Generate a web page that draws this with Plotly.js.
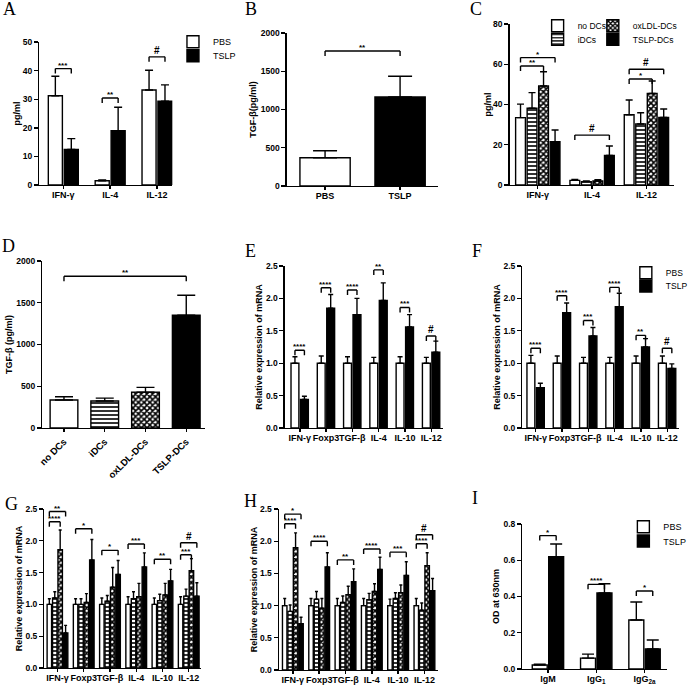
<!DOCTYPE html>
<html><head><meta charset="utf-8">
<script src="https://cdn.plot.ly/plotly-3.0.1.min.js"></script>
<style>html,body{margin:0;padding:0;background:#fff}#chart{width:693px;height:686px}</style>
</head><body><div id="chart"></div>
<script>
// ---------------- data ----------------
const groups2 = ['PBS', 'TSLP'];
const dcGroups = ['no DCs', 'iDCs', 'oxLDL-DCs', 'TSLP-DCs'];
const cytokines = ['IFN-γ', 'IL-4', 'IL-12'];
const genes = ['IFN-γ', 'Foxp3', 'TGF-β', 'IL-4', 'IL-10', 'IL-12'];
const antibodies = ['IgM', 'IgG<sub>1</sub>', 'IgG<sub>2a</sub>'];

// A
const pbsA = [31.2, 1.5, 33.2];
const pbsAErr = [6.8, 0.3, 6.9];
const tslpA = [12.4, 19.0, 29.3];
const tslpAErr = [3.8, 8.2, 5.7];
const sigA = [[0,0,0,1,40.7,'***'],[1,0,1,1,30.4,'**'],[2,0,2,1,44.8,'#']];
// B
const tgfB = [370, 1165];
const tgfBErr = [90, 270];
const sigB = [[0,0,1,0,1765,'**']];
// C
const noDCsC = [33.5, 2.3, 34.9];
const noDCsCErr = [6.7, 0.5, 7.3];
const iDCsC = [38.1, 1.7, 30.3];
const iDCsCErr = [7.8, 0.3, 5.6];
const oxDCsC = [49.2, 2.0, 45.5];
const oxDCsCErr = [7.1, 0.6, 6.2];
const tslpDCsC = [21.5, 14.7, 33.6];
const tslpDCsCErr = [5.8, 4.7, 4.2];
const sigC = [[0,0,0,3,63.3,'*'],[0,0,0,2,59.1,'**'],[1,0,1,3,24.8,'#'],[2,0,2,3,57.5,'#'],[2,0,2,2,52.7,'*']];
// D
const tgfD = [335, 323, 430, 1350];
const tgfDErr = [40, 35, 56, 240];
const sigD = [[0,0,3,0,1817,'**']];
// E
const pbsE = [1, 1, 1, 1, 1, 1];
const pbsEErr = [0.10, 0.11, 0.10, 0.09, 0.10, 0.09];
const tslpE = [0.44, 1.85, 1.75, 1.97, 1.56, 1.17];
const tslpEErr = [0.05, 0.21, 0.25, 0.27, 0.19, 0.17];
const sigE = [[0,0,0,1,1.20,'****'],[1,0,1,1,2.165,'****'],[2,0,2,1,2.13,'****'],[3,0,3,1,2.44,'**'],[4,0,4,1,1.86,'***'],[5,0,5,1,1.42,'#']];
// F
const pbsF = [1, 1, 1, 1, 1, 1];
const pbsFErr = [0.12, 0.11, 0.09, 0.09, 0.11, 0.11];
const tslpF = [0.62, 1.78, 1.42, 1.87, 1.25, 0.92];
const tslpFErr = [0.07, 0.15, 0.13, 0.21, 0.13, 0.07];
const sigF = [[0,0,0,1,1.23,'****'],[1,0,1,1,2.04,'****'],[2,0,2,1,1.66,'***'],[3,0,3,1,2.17,'****'],[4,0,4,1,1.43,'**'],[5,0,5,1,1.23,'#']];
// G
const noDCsG = [1, 1, 1, 1, 1, 1];
const noDCsGErr = [0.09, 0.09, 0.10, 0.12, 0.10, 0.12];
const iDCsG = [1.10, 1.00, 1.05, 1.09, 1.06, 1.13];
const iDCsGErr = [0.10, 0.09, 0.09, 0.11, 0.10, 0.11];
const oxDCsG = [1.86, 1.03, 1.27, 1.12, 1.15, 1.53];
const oxDCsGErr = [0.31, 0.14, 0.31, 0.21, 0.18, 0.19];
const tslpDCsG = [0.55, 1.70, 1.47, 1.59, 1.37, 1.13];
const tslpDCsGErr = [0.12, 0.32, 0.22, 0.22, 0.18, 0.21];
const sigG = [[0,0,0,3,2.46,'**'],[0,0,0,2,2.30,'****'],[1,0,1,3,2.19,'*'],[2,0,2,3,1.85,'*'],[3,0,3,3,1.95,'***'],[4,0,4,3,1.71,'**'],[5,0,5,3,1.97,'#'],[5,0,5,2,1.78,'***']];
// H
const noDCsH = [1, 1, 1, 1, 1, 1];
const noDCsHErr = [0.11, 0.11, 0.11, 0.11, 0.10, 0.11];
const iDCsH = [0.91, 1.10, 1.05, 1.09, 1.11, 0.93];
const iDCsHErr = [0.10, 0.12, 0.10, 0.10, 0.09, 0.11];
const oxDCsH = [1.90, 0.96, 1.17, 1.22, 1.20, 1.62];
const oxDCsHErr = [0.23, 0.15, 0.13, 0.12, 0.12, 0.20];
const tslpDCsH = [0.72, 1.60, 1.37, 1.56, 1.47, 1.23];
const tslpDCsHErr = [0.10, 0.22, 0.20, 0.19, 0.21, 0.19];
const sigH = [[0,0,0,3,2.42,'*'],[0,0,0,2,2.27,'****'],[1,0,1,3,2.0,'****'],[2,0,2,3,1.71,'**'],[3,0,3,3,1.88,'****'],[4,0,4,3,1.83,'***'],[5,0,5,3,2.10,'#'],[5,0,5,2,1.96,'****']];
// I
const pbsI = [0.022, 0.06, 0.27];
const pbsIErr = [0.005, 0.022, 0.10];
const tslpI = [0.62, 0.42, 0.11];
const tslpIErr = [0.07, 0.05, 0.05];
const sigI = [[0,0,0,1,0.736,'*'],[1,0,1,1,0.467,'****'],[2,0,2,1,0.43,'*']];

// ---------------- layout helpers ----------------
const W = 693, H = 686;
const SANS = 'Liberation Sans, Arial, sans-serif';
const SERIF = 'Liberation Serif, Times New Roman, serif';
const LW = 1.4;
const INK = '#000000';

const geo = {
  A:{xa:'x',  ya:'y',  l:40,  r:175, t:42,  b:185, xr:[-0.51,2.33], ymax:50,   dtick:10,  fmt:'',    title:'pg/ml', so:0},
  B:{xa:'x2', ya:'y2', l:291, r:444, t:33,  b:186, xr:[-0.51,1.5],  ymax:2000, dtick:500, fmt:'',    title:'TGF-β(pg/ml)', so:2},
  C:{xa:'x3', ya:'y3', l:517, r:684, t:24,  b:185, xr:[-0.52,2.51], ymax:80,   dtick:20,  fmt:'',    title:'pg/ml', so:0},
  D:{xa:'x4', ya:'y4', l:43,  r:208, t:261, b:428, xr:[-0.53,3.46], ymax:2000, dtick:500, fmt:'',    title:'TGF-β (pg/ml)', so:2},
  E:{xa:'x5', ya:'y5', l:289, r:449, t:266, b:428, xr:[-0.57,5.43], ymax:2.5,  dtick:0.5, fmt:'.1f', title:'Relative expression of mRNA', so:1},
  F:{xa:'x6', ya:'y6', l:530, r:689, t:266, b:428, xr:[-0.51,5.45], ymax:2.5,  dtick:0.5, fmt:'.1f', title:'Relative expression of mRNA', so:1},
  G:{xa:'x7', ya:'y7', l:45,  r:204, t:509, b:668, xr:[-0.5,5.47],  ymax:2.5,  dtick:0.5, fmt:'.1f', title:'Relative expression of mRNA', so:1},
  H:{xa:'x8', ya:'y8', l:283, r:444, t:509, b:670, xr:[-0.53,5.5],  ymax:2.5,  dtick:0.5, fmt:'.1f', title:'Relative expression of mRNA', so:1},
  I:{xa:'x9', ya:'y9', l:530, r:677, t:524, b:669, xr:[-0.53,2.47], ymax:0.8,  dtick:0.2, fmt:'.1f', title:'OD at 630nm', so:2}
};

const whiteM = {color:'white', line:{color:INK, width:LW}};
const blackM = {color:INK, line:{color:INK, width:LW}};
const hlineM = {color:'white', line:{color:INK, width:LW}, pattern:{shape:'-', fgcolor:INK, bgcolor:'white', size:4, solidity:0.4, fillmode:'replace'}};
const checkM = {color:'white', line:{color:INK, width:LW}, pattern:{shape:'x', fgcolor:INK, bgcolor:'white', size:4, solidity:0.65, fillmode:'replace'}};
const dcMarkers = [whiteM, hlineM, checkM, blackM];

const traces = [];
function addBar(p, cats, vals, errs, center, width, marker, cap, name, legend) {
  const g = geo[p];
  traces.push({
    type:'bar', x:cats, y:vals, xaxis:g.xa, yaxis:g.ya,
    width:width, offset:center - width/2, marker:marker, name:name || p,
    showlegend: !!legend, legend: legend || 'legend',
    error_y:{type:'data', symmetric:false, array:errs, arrayminus:vals.map(() => 0), color:INK, thickness:LW, width:cap},
    hoverinfo:'skip'
  });
}

// A
const c2A = [-0.17, 0.17];
addBar('A', cytokines, pbsA, pbsAErr, c2A[0], 0.30, whiteM, 4, groups2[0], 'legend');
addBar('A', cytokines, tslpA, tslpAErr, c2A[1], 0.30, blackM, 4, groups2[1], 'legend2');
// B
addBar('B', [groups2[0]], [tgfB[0]], [tgfBErr[0]], 0, 0.67, whiteM, 12);
addBar('B', [groups2[1]], [tgfB[1]], [tgfBErr[1]], 0, 0.67, blackM, 12);
// C
const c4C = [-0.318, -0.106, 0.106, 0.318];
[[noDCsC,noDCsCErr],[iDCsC,iDCsCErr],[oxDCsC,oxDCsCErr],[tslpDCsC,tslpDCsCErr]].forEach((s,i) =>
  addBar('C', cytokines, s[0], s[1], c4C[i], 0.18, dcMarkers[i], 3.5, dcGroups[i], 'legend' + (i + 3)));
// D
dcGroups.forEach((gname, i) => addBar('D', [gname], [tgfD[i]], [tgfDErr[i]], 0, 0.68, dcMarkers[i], 9));
// E
const c2E = [-0.185, 0.175];
addBar('E', genes, pbsE, pbsEErr, c2E[0], 0.30, whiteM, 2.5);
addBar('E', genes, tslpE, tslpEErr, c2E[1], 0.30, blackM, 2.5);
// F
addBar('F', genes, pbsF, pbsFErr, c2E[0], 0.30, whiteM, 2.5, groups2[0], 'legend7');
addBar('F', genes, tslpF, tslpFErr, c2E[1], 0.30, blackM, 2.5, groups2[1], 'legend8');
// G
const c4G = [-0.31, -0.103, 0.103, 0.31];
[[noDCsG,noDCsGErr],[iDCsG,iDCsGErr],[oxDCsG,oxDCsGErr],[tslpDCsG,tslpDCsGErr]].forEach((s,i) =>
  addBar('G', genes, s[0], s[1], c4G[i], 0.17, dcMarkers[i], 1.5));
// H
[[noDCsH,noDCsHErr],[iDCsH,iDCsHErr],[oxDCsH,oxDCsHErr],[tslpDCsH,tslpDCsHErr]].forEach((s,i) =>
  addBar('H', genes, s[0], s[1], c4G[i], 0.17, dcMarkers[i], 1.5));
// I
const c2I = [-0.17, 0.17];
addBar('I', antibodies, pbsI, pbsIErr, c2I[0], 0.31, whiteM, 6, groups2[0], 'legend9');
addBar('I', antibodies, tslpI, tslpIErr, c2I[1], 0.31, blackM, 6, groups2[1], 'legend10');

// ---------------- axes ----------------
const layout = {
  width:W, height:H, margin:{l:0, r:0, t:0, b:0}, paper_bgcolor:'white', plot_bgcolor:'rgba(0,0,0,0)',
  barmode:'overlay', font:{family:SANS, color:INK}, shapes:[], annotations:[]
};
const catsOf = {A:cytokines, B:groups2, C:cytokines, D:dcGroups, E:genes, F:genes, G:genes, H:genes, I:antibodies};
Object.keys(geo).forEach(p => {
  const g = geo[p];
  const xk = 'xaxis' + g.xa.slice(1), yk = 'yaxis' + g.ya.slice(1);
  layout[xk] = {
    domain:[g.l / W, g.r / W], anchor:g.ya, type:'category', categoryorder:'array', categoryarray:catsOf[p],
    range:g.xr, showline:true, linecolor:INK, linewidth:LW, ticks:'outside', ticklen:3, tickwidth:LW, tickcolor:INK,
    showgrid:false, zeroline:false, fixedrange:true, automargin:false, tickangle: p === 'D' ? -45 : 0,
    ticklabelstandoff: p === 'D' ? 0 : -2,
    tickfont:{family:SANS, size: p === 'D' ? 9.5 : 9, color:INK, weight:'bold'}
  };
  layout[yk] = {
    domain:[1 - g.b / H, 1 - g.t / H], anchor:g.xa, range:[0, g.ymax], tick0:0, dtick:g.dtick, tickformat:g.fmt,
    showline:true, linecolor:INK, linewidth:LW, ticks:'outside', ticklen:4, tickwidth:LW, tickcolor:INK,
    showgrid:false, zeroline:false, fixedrange:true, automargin:false,
    tickfont:{family:SANS, size:8.5, color:INK, weight:'bold'},
    title:{text:g.title, standoff:g.so, font:{family:SANS, size:9, color:INK, weight:'bold'}}
  };
});

// ---------------- significance brackets ----------------
const centersOf = {A:c2A, B:[0], C:c4C, D:[0], E:c2E, F:c2E, G:c4G, H:c4G, I:c2I};
const sigs = {A:sigA, B:sigB, C:sigC, D:sigD, E:sigE, F:sigF, G:sigG, H:sigH, I:sigI};
Object.keys(sigs).forEach(p => {
  const g = geo[p];
  const drop = 5 * g.ymax / (g.b - g.t);
  sigs[p].forEach(s => {
    const x0 = s[0] + centersOf[p][s[1]], x1 = s[2] + centersOf[p][s[3]], y = s[4];
    const ln = {type:'line', xref:g.xa, yref:g.ya, line:{color:INK, width:LW}, layer:'above'};
    layout.shapes.push(Object.assign({}, ln, {x0:x0, x1:x1, y0:y, y1:y}));
    layout.shapes.push(Object.assign({}, ln, {x0:x0, x1:x0, y0:y - drop, y1:y}));
    layout.shapes.push(Object.assign({}, ln, {x0:x1, x1:x1, y0:y - drop, y1:y}));
    const isHash = s[5] === '#';
    layout.annotations.push({
      xref:g.xa, yref:g.ya, x:(x0 + x1) / 2, y:y, text:s[5], showarrow:false, xanchor:'center', yanchor:'bottom',
      yshift: isHash ? -1 : -3,
      font:{family:SANS, size: isHash ? 10 : 8, color:INK, weight:'bold'}
    });
  });
});

// ---------------- panel letters ----------------
const letters = [['A',3,3],['B',249,3],['C',477,3],['D',2,240],['E',249,245],['F',479,245],['G',5,498],['H',248,495],['I',479,492]];
letters.forEach(l => layout.annotations.push({
  xref:'paper', yref:'paper', x:(l[1] - 2) / W, y:1 - (l[2] - 6) / H, xanchor:'left', yanchor:'top', showarrow:false,
  text:l[0], font:{family:SERIF, size:18, color:INK}
}));

// ---------------- legends ----------------
const legendPos = {
  legend:[175.5,41.7], legend2:[175.5,55.7],
  legend3:[545.5,25.7], legend4:[545.5,39.3], legend5:[601.5,25.7], legend6:[601.5,39.3],
  legend7:[635,272.7], legend8:[635,286],
  legend9:[632.5,526.7], legend10:[632.5,541]
};
Object.keys(legendPos).forEach(k => {
  const pos = legendPos[k];
  layout[k] = {
    x:pos[0] / W, y:1 - pos[1] / H, xanchor:'left', yanchor:'middle', bgcolor:'rgba(0,0,0,0)', borderwidth:0,
    font:{family:SANS, size: k.match(/legend([3-8])$/) ? 8.5 : 9, color:INK}, itemclick:false, itemdoubleclick:false
  };
});

Plotly.newPlot('chart', traces, layout, {displayModeBar:false, staticPlot:true});
</script>
</body></html>
